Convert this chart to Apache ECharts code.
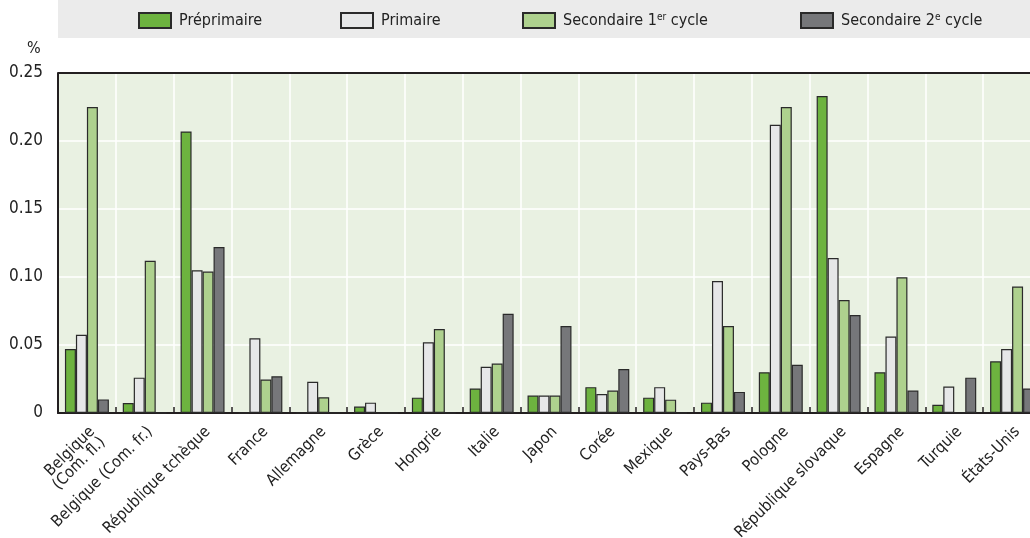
<!DOCTYPE html>
<html><head><meta charset="utf-8">
<script src="https://cdn.jsdelivr.net/npm/echarts@6/dist/echarts.min.js"></script>
<style>html,body{margin:0;padding:0;background:#fff}#c{width:1030px;height:538px}</style>
</head><body><div id="c"></div>
<script>
const categories = ['Belgique\n(Com. fl.)','Belgique (Com. fr.)','République tchèque','France','Allemagne','Grèce','Hongrie','Italie','Japon','Corée','Mexique','Pays-Bas','Pologne','République slovaque','Espagne','Turquie','États-Unis'];
const seriesNames = ['Préprimaire','Primaire','Secondaire 1er cycle','Secondaire 2e cycle'];
const preprimaire = [0.047,0.0074,0.207,0,0,0.0047,0.0113,0.018,0.0128,0.019,0.0113,0.0076,0.030,0.233,0.030,0.006,0.038];
const primaire = [0.0575,0.026,0.105,0.055,0.023,0.0076,0.052,0.034,0.0128,0.014,0.019,0.097,0.212,0.114,0.0563,0.0194,0.047];
const secondaire1 = [0.225,0.112,0.104,0.0246,0.0116,0,0.0617,0.0364,0.0128,0.0165,0.0098,0.064,0.225,0.083,0.0998,0,0.093];
const secondaire2 = [0.010,0,0.122,0.027,0,0,0,0.073,0.064,0.0324,0,0.0155,0.0354,0.072,0.0165,0.026,0.018];
const yTicks = [0,0.05,0.10,0.15,0.20,0.25];
const colors = ['#6db33f','#e6e7e8','#aed18e','#76777a'];
const values = [preprimaire, primaire, secondaire1, secondaire2];
const legendLeft = [133,335,517,795];
const FONT = '"DejaVu Sans Condensed","Liberation Sans",Arial,sans-serif';

const chart = echarts.init(document.getElementById('c'), null, {renderer:'canvas'});
const legendFmt = n => n === 'Secondaire 1er cycle' ? 'Secondaire 1{sup|er} cycle' : (n === 'Secondaire 2e cycle' ? 'Secondaire 2{sup|e} cycle' : n);
chart.setOption({
  animation:false,
  graphic:[{type:'rect',shape:{x:58,y:0,width:980,height:38},style:{fill:'#ebebeb'},z:-10},
           {type:'text',left:27,top:41,style:{text:'%',font:'16px '+FONT,fill:'#222'}}],
  legend: seriesNames.map((n,i)=>({
    data:[{name:n,icon:'rect'}], left:legendLeft[i], top:7, itemWidth:32, itemHeight:15, itemGap:0,
    selectedMode:false, formatter: legendFmt,
    textStyle:{fontFamily:FONT,fontSize:16,color:'#222',padding:[0,0,0,3],
      rich:{sup:{fontSize:10,verticalAlign:'top',padding:[0,0,6,0],fontFamily:FONT,color:'#222'}}}
  })),
  grid:{left:58,top:73,width:983,bottom:125,outerBoundsMode:'none',containLabel:false,show:true,backgroundColor:'#e9f1e2',borderColor:'#231f20',borderWidth:0},
  xAxis:{type:'category',data:categories,
    axisLine:{lineStyle:{color:'#231f20',width:2}},
    axisTick:{show:true,inside:true,length:6,lineStyle:{color:'#231f20',width:1.5}},
    splitLine:{show:true,lineStyle:{color:'#ffffff',width:1.5}},
    axisLabel:{rotate:45,interval:0,fontFamily:FONT,fontSize:16,color:'#222',margin:11,lineHeight:15,verticalAlign:'top'}},
  yAxis:{type:'value',min:0,max:0.25,interval:0.05,
    axisLine:{show:true,lineStyle:{color:'#231f20',width:2}},
    axisTick:{show:false},
    splitLine:{show:true,lineStyle:{color:'#ffffff',width:1.5}},
    axisLabel:{fontFamily:FONT,fontSize:17,color:'#222',margin:15,
      formatter:v=>v===0?'0':v.toFixed(2)}},
  series: seriesNames.map((n,i)=>({
    name:n,type:'bar',data:values[i],barGap:'0%',barCategoryGap:'24%',
    itemStyle:{color:colors[i],borderColor:'#2a2a2a',borderWidth:1.2}
  })).concat([{type:'line',data:[],markLine:{silent:true,symbol:'none',label:{show:false},
    lineStyle:{color:'#231f20',width:2,type:'solid'},data:[{yAxis:0.25}]}}])
});
</script></body></html>
